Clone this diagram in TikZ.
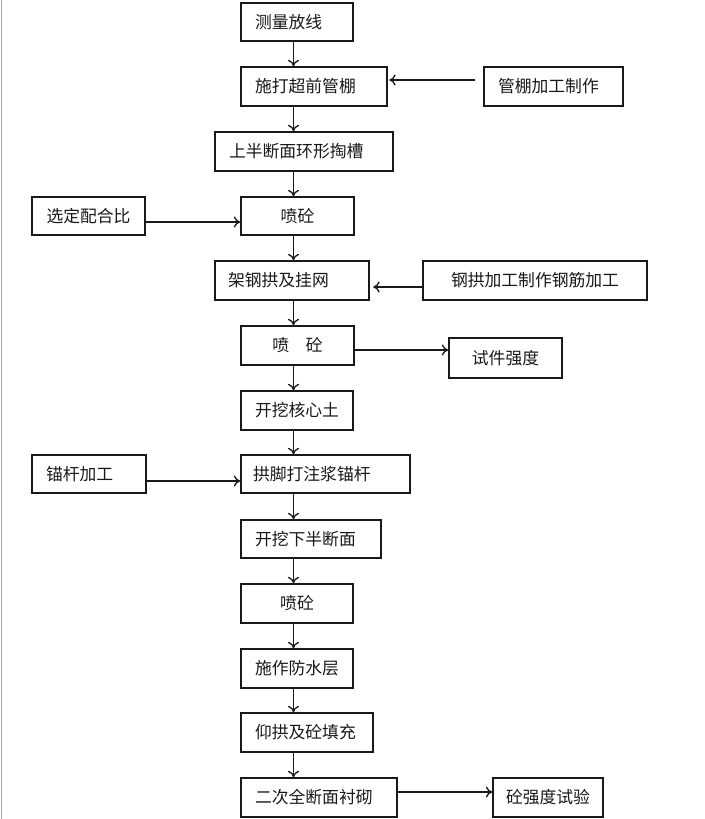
\documentclass[tikz,border=0pt]{standalone}
\usepackage{fontspec}
\newfontfamily\cjk{Noto Sans CJK SC}
\usetikzlibrary{arrows.meta}
\tikzset{
  boxs/.style={draw=black!90, line width=1.4pt, rectangle, inner ysep=0pt,
    font=\cjk\fontsize{16.8}{18}\selectfont, text=black!90},
  arr/.style={line width=1.3pt, draw=black!90, -{To[length=6.5pt,width=11pt,line width=1.3pt]}},
}
\newcommand\mybox[8]{%
  \pgfmathsetmacro\bh{#5-#3}%
  \pgfmathsetmacro\tw{#4-#2-2*#6}%
  \pgfmathsetmacro\cx{(#2+#4)/2}%
  \pgfmathsetmacro\cy{(#3+#5)/2}%
  \node[boxs, minimum height=\bh pt, inner xsep=#6 pt, text width=\tw pt, align=#7] (#1) at (\cx,\cy) {#8};}
\begin{document}
\begin{tikzpicture}[x=1pt,y=-1pt]
\useasboundingbox (0,0) rectangle (704,819);
\fill[white] (0,0) rectangle (704,819);
\draw[line width=1pt, black!35] (1.5,0) -- (1.5,819);
% main column
\mybox{ms}{241}{3}{353}{41}{14}{left}{测量放线}
\mybox{sd}{241}{67}{387}{106}{14}{left}{施打超前管棚}
\mybox{sb}{215}{132}{393}{171}{14}{left}{上半断面环形掏槽}
\mybox{pa}{241}{197}{354}{235}{4}{center}{喷砼}
\mybox{jg}{215}{261}{369}{300}{13}{left}{架钢拱及挂网}
\mybox{pb}{241}{326}{354}{365}{4}{center}{喷\quad 砼}
\mybox{kw}{241}{391}{353}{430}{14}{left}{开挖核心土}
\mybox{gm}{241}{455}{410}{493}{12}{left}{拱脚打注浆锚杆}
\mybox{kx}{241}{520}{381}{558}{14}{left}{开挖下半断面}
\mybox{pc}{241}{584}{353}{623}{4}{center}{喷砼}
\mybox{sz}{241}{649}{353}{688}{14}{left}{施作防水层}
\mybox{yg}{241}{713}{373}{752}{14}{left}{仰拱及砼填充}
\mybox{ec}{241}{778}{397}{817}{14}{left}{二次全断面衬砌}
% side boxes
\mybox{gg}{484}{67}{623}{106}{14}{left}{管棚加工制作}
\mybox{xd}{32}{197}{145}{235}{4}{center}{选定配合比}
\mybox{gj}{423}{261}{647}{300}{4}{center}{钢拱加工制作钢筋加工}
\mybox{sj}{449}{338}{562}{378}{4}{center}{试件强度}
\mybox{mg}{32}{455}{146}{493}{14}{left}{锚杆加工}
\mybox{tq}{493}{778}{603}{817}{4}{center}{砼强度试验}
% guide coordinates
\coordinate (cx) at (293.5,0);
\coordinate (y1) at (0,80);
\coordinate (y2) at (0,222);
\coordinate (y3) at (0,287);
\coordinate (y4) at (0,350);
\coordinate (y5) at (0,481);
\coordinate (y6) at (0,792);
% vertical arrows
\foreach \a/\b in {ms/sd, sd/sb, sb/pa, pa/jg, jg/pb, pb/kw, kw/gm, gm/kx, kx/pc, pc/sz, sz/yg, yg/ec}{
  \draw[arr] (\a.south -| cx) -- (\b.north -| cx);
}
% horizontal arrows
\draw[arr, shorten <=8pt, shorten >=1.5pt] (gg.west |- y1) -- (sd.east |- y1);
\draw[arr] (xd.east |- y2) -- (pa.west |- y2);
\draw[arr, shorten >=3.5pt] (gj.west |- y3) -- (jg.east |- y3);
\draw[arr] (pb.east |- y4) -- (sj.west |- y4);
\draw[arr] (mg.east |- y5) -- (gm.west |- y5);
\draw[arr] (ec.east |- y6) -- (tq.west |- y6);
\end{tikzpicture}
\end{document}
